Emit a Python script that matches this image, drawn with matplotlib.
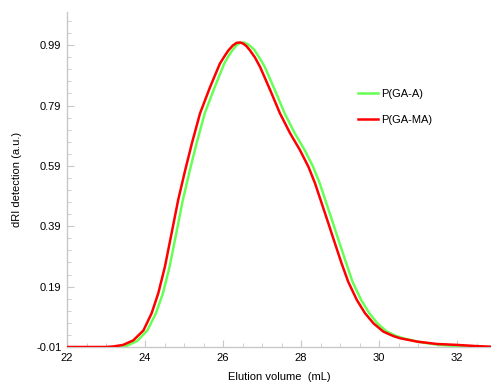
import numpy as np
import matplotlib.pyplot as plt
from matplotlib.ticker import MultipleLocator, FixedLocator

# ====== DATA ======
red_x = [22.0, 22.5, 23.0, 23.2, 23.44, 23.70, 23.96, 24.17, 24.34, 24.51, 24.68,
         24.85, 25.03, 25.20, 25.41, 25.67, 25.92, 26.05, 26.14, 26.25, 26.35, 26.44,
         26.52, 26.60, 26.69, 26.82, 26.95,
         27.21, 27.46, 27.72, 27.97, 28.19, 28.36, 28.53, 28.70, 28.87, 29.04, 29.21,
         29.43, 29.64, 29.86, 30.11, 30.37, 30.54, 30.97, 31.48, 31.99, 32.5, 32.87]
red_y = [-0.010, -0.010, -0.010, -0.008, -0.003, 0.012, 0.045, 0.102, 0.168, 0.256, 0.366,
         0.477, 0.576, 0.664, 0.764, 0.852, 0.929, 0.956, 0.973, 0.989, 0.998, 0.999,
         0.995, 0.987, 0.973, 0.949, 0.918,
         0.841, 0.764, 0.698, 0.643, 0.587, 0.532, 0.466, 0.400, 0.333, 0.267, 0.206,
         0.146, 0.102, 0.068, 0.041, 0.026, 0.019, 0.008, 0.000, -0.003, -0.007, -0.009]

green_x = [22.0, 22.5, 23.0, 23.25, 23.50, 23.80, 24.06, 24.28, 24.46, 24.63, 24.80,
           24.97, 25.15, 25.32, 25.53, 25.79, 26.03, 26.15, 26.24, 26.34, 26.44, 26.53,
           26.61, 26.70, 26.80, 26.93, 27.07,
           27.33, 27.58, 27.84, 28.09, 28.31, 28.48, 28.65, 28.82, 28.99, 29.16, 29.32,
           29.54, 29.75, 29.96, 30.20, 30.45, 30.62, 31.05, 31.55, 32.0, 32.5, 32.87]
green_y = [-0.013, -0.013, -0.013, -0.012, -0.008, 0.010, 0.045, 0.102, 0.168, 0.256, 0.366,
           0.477, 0.576, 0.664, 0.764, 0.852, 0.929, 0.956, 0.973, 0.989, 0.998, 0.999,
           0.995, 0.987, 0.975, 0.949, 0.918,
           0.841, 0.764, 0.698, 0.643, 0.587, 0.532, 0.466, 0.400, 0.333, 0.267, 0.206,
           0.146, 0.102, 0.068, 0.041, 0.026, 0.019, 0.006, -0.003, -0.007, -0.010, -0.012]

y_ticks = [-0.01, 0.19, 0.39, 0.59, 0.79, 0.99]
x_ticks = [22, 24, 26, 28, 30, 32]

plt.rcParams['font.family'] = ['Liberation Sans', 'DejaVu Sans']

fig = plt.figure(figsize=(4.91, 3.84), dpi=100)
ax = fig.add_axes([67 / 491, 1 - 347 / 384, 1 - 67 / 491, (347 - 12) / 384])

ax.plot(green_x, green_y, color="#66ff55", lw=1.8, label="P(GA-A)", zorder=2,
        solid_joinstyle="round")
ax.plot(red_x, red_y, color="#ff0000", lw=1.8, label="P(GA-MA)", zorder=3,
        solid_joinstyle="round")

ax.set_xlim(22, 32.87)
ax.set_ylim(-0.01, 1.10)

ax.xaxis.set_major_locator(FixedLocator(x_ticks))
ax.xaxis.set_minor_locator(MultipleLocator(0.5))
ax.yaxis.set_major_locator(FixedLocator(y_ticks))
ax.yaxis.set_minor_locator(FixedLocator(np.arange(-0.01, 1.10, 0.04)))
ax.set_yticklabels([f"{v:.2f}" for v in y_ticks])

for s in ["top", "right"]:
    ax.spines[s].set_visible(False)
for s in ["left", "bottom"]:
    ax.spines[s].set_color("#c8c8c8")
    ax.spines[s].set_linewidth(1.0)

ax.tick_params(which="major", direction="in", length=5, color="#c8c8c8",
               labelsize=8, labelcolor="black", pad=4)
ax.tick_params(which="minor", direction="in", length=3, color="#c8c8c8")

ax.set_xlabel("Elution volume  (mL)", fontsize=8, labelpad=7)
ax.set_ylabel("dRI detection (a.u.)", fontsize=8, labelpad=10)

ax.legend(loc="upper left", bbox_to_anchor=(348 / 491, 1 - 79 / 384),
          bbox_transform=fig.transFigure, frameon=False, fontsize=8,
          handlelength=1.8, handletextpad=0.3, labelspacing=1.4)

fig.savefig("out.png", dpi=100)
